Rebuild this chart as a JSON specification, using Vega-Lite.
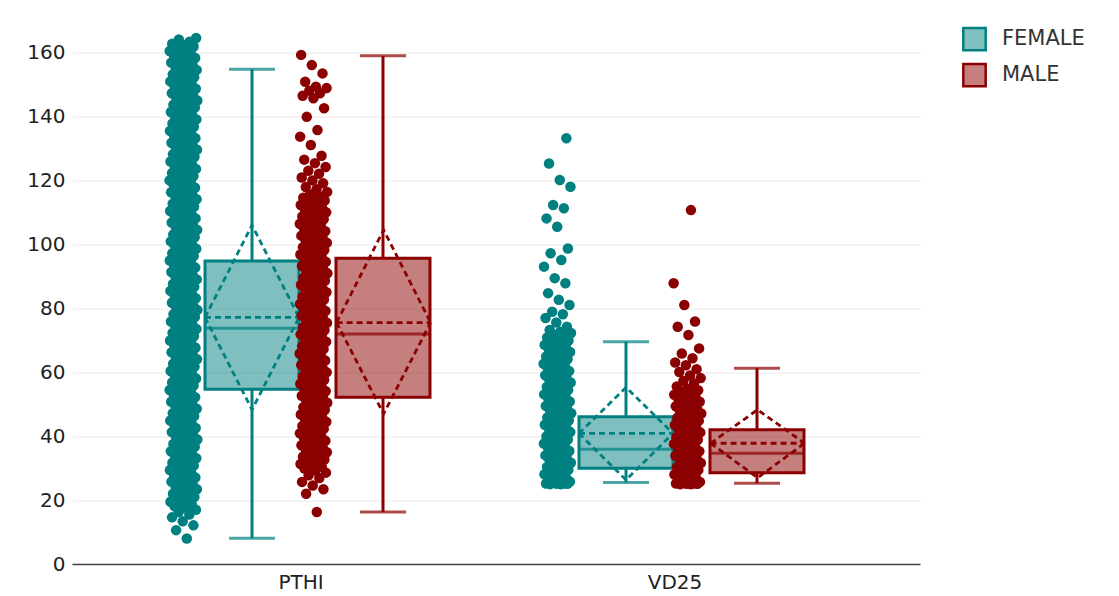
{
"$schema":"https://vega.github.io/schema/vega-lite/v6.json",
"width":848,"height":533.4,
"autosize":{"type":"none"},
"padding":{"left":72,"top":30.6,"right":199,"bottom":32},
"background":"white",
"config":{"view":{"stroke":null},"font":"DejaVu Sans",
"axis":{"labelFont":"DejaVu Sans","labelColor":"#222","labelFontSize":20},
"axisX":{"labelAngle":0,"ticks":false,"grid":false,"domainColor":"#444","domainWidth":1.5,"labelPadding":8},
"axisY":{"ticks":false,"domain":false,"gridColor":"#e9e9e9","gridWidth":1,"labelPadding":7}},
"datasets":{
"st":[{"c":"PTHI","s":"FEMALE","lo":8.1,"q1":54.7,"med":73.8,"q3":94.9,"hi":154.9},{"c":"PTHI","s":"MALE","lo":16.3,"q1":52.2,"med":72.0,"q3":95.7,"hi":159.1},{"c":"VD25","s":"FEMALE","lo":25.5,"q1":30.0,"med":35.9,"q3":46.1,"hi":69.6},{"c":"VD25","s":"MALE","lo":25.3,"q1":28.6,"med":34.7,"q3":42.0,"hi":61.3}],
"dm":[
{"c":"PTHI","s":"FEMALE","k":"up","p":"FL","v":77.2,"o":1},{"c":"PTHI","s":"FEMALE","k":"up","p":"FC","v":106.1,"o":2},{"c":"PTHI","s":"FEMALE","k":"up","p":"FR","v":77.2,"o":3},
{"c":"PTHI","s":"FEMALE","k":"dn","p":"FL","v":77.2,"o":1},{"c":"PTHI","s":"FEMALE","k":"dn","p":"FC","v":48.3,"o":2},{"c":"PTHI","s":"FEMALE","k":"dn","p":"FR","v":77.2,"o":3},
{"c":"PTHI","s":"FEMALE","k":"mean","p":"FL","v":77.2,"o":1},{"c":"PTHI","s":"FEMALE","k":"mean","p":"FR","v":77.2,"o":2},
{"c":"PTHI","s":"MALE","k":"up","p":"ML","v":75.6,"o":1},{"c":"PTHI","s":"MALE","k":"up","p":"MC","v":104.6,"o":2},{"c":"PTHI","s":"MALE","k":"up","p":"MR","v":75.6,"o":3},
{"c":"PTHI","s":"MALE","k":"dn","p":"ML","v":75.6,"o":1},{"c":"PTHI","s":"MALE","k":"dn","p":"MC","v":47.0,"o":2},{"c":"PTHI","s":"MALE","k":"dn","p":"MR","v":75.6,"o":3},
{"c":"PTHI","s":"MALE","k":"mean","p":"ML","v":75.6,"o":1},{"c":"PTHI","s":"MALE","k":"mean","p":"MR","v":75.6,"o":2},
{"c":"VD25","s":"FEMALE","k":"up","p":"FL","v":40.9,"o":1},{"c":"VD25","s":"FEMALE","k":"up","p":"FC","v":55.3,"o":2},{"c":"VD25","s":"FEMALE","k":"up","p":"FR","v":40.9,"o":3},
{"c":"VD25","s":"FEMALE","k":"dn","p":"FL","v":40.9,"o":1},{"c":"VD25","s":"FEMALE","k":"dn","p":"FC","v":26.3,"o":2},{"c":"VD25","s":"FEMALE","k":"dn","p":"FR","v":40.9,"o":3},
{"c":"VD25","s":"FEMALE","k":"mean","p":"FL","v":40.9,"o":1},{"c":"VD25","s":"FEMALE","k":"mean","p":"FR","v":40.9,"o":2},
{"c":"VD25","s":"MALE","k":"up","p":"ML","v":37.8,"o":1},{"c":"VD25","s":"MALE","k":"up","p":"MC","v":48.3,"o":2},{"c":"VD25","s":"MALE","k":"up","p":"MR","v":37.8,"o":3},
{"c":"VD25","s":"MALE","k":"dn","p":"ML","v":37.8,"o":1},{"c":"VD25","s":"MALE","k":"dn","p":"MC","v":27.0,"o":2},{"c":"VD25","s":"MALE","k":"dn","p":"MR","v":37.8,"o":3},
{"c":"VD25","s":"MALE","k":"mean","p":"ML","v":37.8,"o":1},{"c":"VD25","s":"MALE","k":"mean","p":"MR","v":37.8,"o":2}],
"fp":[{"v":8.0},{"v":10.6},{"v":12.1},{"v":13.4},{"v":14.6},{"v":15.5},{"v":16.3},{"v":17.0},{"v":17.6},{"v":18.1},{"v":18.6},{"v":19.0},{"v":19.5},{"v":20.1},{"v":20.5},{"v":21.0},{"v":21.6},{"v":22.0},{"v":22.4},{"v":22.9},{"v":23.4},{"v":23.8},{"v":24.3},{"v":24.9},{"v":25.3},{"v":25.8},{"v":26.2},{"v":26.7},{"v":27.1},{"v":27.6},{"v":28.0},{"v":28.5},{"v":29.0},{"v":29.4},{"v":29.9},{"v":30.3},{"v":30.8},{"v":31.2},{"v":31.7},{"v":32.1},{"v":32.6},{"v":33.1},{"v":33.5},{"v":34.0},{"v":34.4},{"v":34.9},{"v":35.3},{"v":35.8},{"v":36.3},{"v":36.7},{"v":37.2},{"v":37.6},{"v":38.1},{"v":38.5},{"v":39.0},{"v":39.5},{"v":39.9},{"v":40.4},{"v":40.8},{"v":41.3},{"v":41.7},{"v":42.2},{"v":42.6},{"v":43.1},{"v":43.6},{"v":44.0},{"v":44.5},{"v":44.9},{"v":45.4},{"v":45.8},{"v":46.3},{"v":46.7},{"v":47.2},{"v":47.7},{"v":48.1},{"v":48.6},{"v":49.0},{"v":49.5},{"v":49.9},{"v":50.4},{"v":50.8},{"v":51.3},{"v":51.8},{"v":52.2},{"v":52.7},{"v":53.1},{"v":53.6},{"v":54.0},{"v":54.5},{"v":54.9},{"v":55.4},{"v":55.9},{"v":56.3},{"v":56.8},{"v":57.2},{"v":57.7},{"v":58.1},{"v":58.6},{"v":59.0},{"v":59.5},{"v":60.0},{"v":60.4},{"v":60.9},{"v":61.3},{"v":61.8},{"v":62.2},{"v":62.7},{"v":63.1},{"v":63.6},{"v":64.1},{"v":64.5},{"v":65.0},{"v":65.4},{"v":65.9},{"v":66.3},{"v":66.8},{"v":67.2},{"v":67.7},{"v":68.2},{"v":68.6},{"v":69.1},{"v":69.5},{"v":70.0},{"v":70.4},{"v":70.9},{"v":71.3},{"v":71.8},{"v":72.3},{"v":72.7},{"v":73.2},{"v":73.6},{"v":74.1},{"v":74.5},{"v":75.0},{"v":75.4},{"v":75.9},{"v":76.4},{"v":76.8},{"v":77.3},{"v":77.7},{"v":78.2},{"v":78.6},{"v":79.1},{"v":79.5},{"v":80.0},{"v":80.5},{"v":80.9},{"v":81.4},{"v":81.8},{"v":82.3},{"v":82.7},{"v":83.2},{"v":83.6},{"v":84.1},{"v":84.6},{"v":85.0},{"v":85.5},{"v":85.9},{"v":86.4},{"v":86.8},{"v":87.3},{"v":87.7},{"v":88.2},{"v":88.7},{"v":89.1},{"v":89.6},{"v":90.0},{"v":90.5},{"v":90.9},{"v":91.4},{"v":91.8},{"v":92.3},{"v":92.8},{"v":93.2},{"v":93.7},{"v":94.1},{"v":94.6},{"v":95.0},{"v":95.5},{"v":95.9},{"v":96.4},{"v":96.9},{"v":97.3},{"v":97.8},{"v":98.2},{"v":98.7},{"v":99.1},{"v":99.6},{"v":100.0},{"v":100.5},{"v":101.0},{"v":101.4},{"v":101.9},{"v":102.3},{"v":102.8},{"v":103.2},{"v":103.7},{"v":104.1},{"v":104.6},{"v":105.1},{"v":105.5},{"v":106.0},{"v":106.4},{"v":106.9},{"v":107.3},{"v":107.8},{"v":108.2},{"v":108.7},{"v":109.2},{"v":109.6},{"v":110.1},{"v":110.5},{"v":111.0},{"v":111.4},{"v":111.9},{"v":112.3},{"v":112.8},{"v":113.3},{"v":113.7},{"v":114.2},{"v":114.6},{"v":115.1},{"v":115.5},{"v":116.0},{"v":116.4},{"v":116.9},{"v":117.4},{"v":117.8},{"v":118.3},{"v":118.7},{"v":119.2},{"v":119.6},{"v":120.1},{"v":120.5},{"v":121.0},{"v":121.5},{"v":121.9},{"v":122.4},{"v":122.8},{"v":123.3},{"v":123.7},{"v":124.2},{"v":124.6},{"v":125.1},{"v":125.6},{"v":126.0},{"v":126.5},{"v":126.9},{"v":127.4},{"v":127.8},{"v":128.3},{"v":128.7},{"v":129.2},{"v":129.7},{"v":130.1},{"v":130.6},{"v":131.0},{"v":131.5},{"v":131.9},{"v":132.4},{"v":132.8},{"v":133.3},{"v":133.8},{"v":134.2},{"v":134.7},{"v":135.1},{"v":135.6},{"v":136.0},{"v":136.5},{"v":136.9},{"v":137.4},{"v":137.9},{"v":138.3},{"v":138.8},{"v":139.2},{"v":139.7},{"v":140.1},{"v":140.6},{"v":141.0},{"v":141.5},{"v":142.0},{"v":142.4},{"v":142.9},{"v":143.3},{"v":143.8},{"v":144.2},{"v":144.7},{"v":145.1},{"v":145.6},{"v":146.1},{"v":146.5},{"v":147.0},{"v":147.4},{"v":147.9},{"v":148.3},{"v":148.8},{"v":149.2},{"v":149.7},{"v":150.2},{"v":150.6},{"v":151.1},{"v":151.5},{"v":152.0},{"v":152.4},{"v":152.9},{"v":153.3},{"v":153.8},{"v":154.3},{"v":154.7},{"v":155.2},{"v":155.6},{"v":156.1},{"v":156.5},{"v":157.0},{"v":157.4},{"v":157.9},{"v":158.4},{"v":158.8},{"v":159.3},{"v":159.7},{"v":160.2},{"v":160.6},{"v":161.1},{"v":161.5},{"v":162.0},{"v":162.5},{"v":162.9},{"v":163.5},{"v":164.2},{"v":164.7}],
"mp":[{"v":16.3},{"v":22.0},{"v":23.4},{"v":24.6},{"v":25.7},{"v":26.9},{"v":27.8},{"v":28.6},{"v":29.3},{"v":29.9},{"v":30.4},{"v":30.9},{"v":31.3},{"v":31.8},{"v":32.2},{"v":32.7},{"v":33.1},{"v":33.6},{"v":34.1},{"v":34.5},{"v":35.0},{"v":35.4},{"v":35.9},{"v":36.3},{"v":36.8},{"v":37.2},{"v":37.7},{"v":38.2},{"v":38.6},{"v":39.1},{"v":39.5},{"v":40.0},{"v":40.4},{"v":40.9},{"v":41.3},{"v":41.8},{"v":42.3},{"v":42.7},{"v":43.2},{"v":43.6},{"v":44.1},{"v":44.5},{"v":45.0},{"v":45.4},{"v":45.9},{"v":46.4},{"v":46.8},{"v":47.3},{"v":47.7},{"v":48.2},{"v":48.6},{"v":49.1},{"v":49.5},{"v":50.0},{"v":50.5},{"v":50.9},{"v":51.4},{"v":51.8},{"v":52.3},{"v":52.7},{"v":53.2},{"v":53.6},{"v":54.1},{"v":54.6},{"v":55.0},{"v":55.5},{"v":55.9},{"v":56.4},{"v":56.8},{"v":57.3},{"v":57.7},{"v":58.2},{"v":58.7},{"v":59.1},{"v":59.6},{"v":60.0},{"v":60.5},{"v":60.9},{"v":61.4},{"v":61.8},{"v":62.3},{"v":62.8},{"v":63.2},{"v":63.7},{"v":64.1},{"v":64.6},{"v":65.0},{"v":65.5},{"v":65.9},{"v":66.4},{"v":66.9},{"v":67.3},{"v":67.8},{"v":68.2},{"v":68.7},{"v":69.1},{"v":69.6},{"v":70.0},{"v":70.5},{"v":71.0},{"v":71.4},{"v":71.9},{"v":72.3},{"v":72.8},{"v":73.2},{"v":73.7},{"v":74.1},{"v":74.6},{"v":75.1},{"v":75.5},{"v":76.0},{"v":76.4},{"v":76.9},{"v":77.3},{"v":77.8},{"v":78.2},{"v":78.7},{"v":79.2},{"v":79.6},{"v":80.1},{"v":80.5},{"v":81.0},{"v":81.4},{"v":81.9},{"v":82.3},{"v":82.8},{"v":83.3},{"v":83.7},{"v":84.2},{"v":84.6},{"v":85.1},{"v":85.5},{"v":86.0},{"v":86.4},{"v":86.9},{"v":87.4},{"v":87.8},{"v":88.3},{"v":88.7},{"v":89.2},{"v":89.6},{"v":90.1},{"v":90.5},{"v":91.0},{"v":91.5},{"v":91.9},{"v":92.4},{"v":92.8},{"v":93.3},{"v":93.7},{"v":94.2},{"v":94.6},{"v":95.1},{"v":95.6},{"v":96.0},{"v":96.5},{"v":96.9},{"v":97.4},{"v":97.8},{"v":98.3},{"v":98.7},{"v":99.2},{"v":99.7},{"v":100.1},{"v":100.6},{"v":101.0},{"v":101.5},{"v":101.9},{"v":102.4},{"v":102.8},{"v":103.3},{"v":103.8},{"v":104.2},{"v":104.7},{"v":105.1},{"v":105.6},{"v":106.0},{"v":106.5},{"v":106.9},{"v":107.4},{"v":107.9},{"v":108.3},{"v":108.8},{"v":109.2},{"v":109.7},{"v":110.1},{"v":110.6},{"v":111.0},{"v":111.5},{"v":112.0},{"v":112.4},{"v":112.9},{"v":113.3},{"v":113.8},{"v":114.2},{"v":114.7},{"v":115.1},{"v":115.6},{"v":116.5},{"v":117.3},{"v":118.0},{"v":119.2},{"v":120.1},{"v":121.0},{"v":122.2},{"v":123.1},{"v":124.3},{"v":125.5},{"v":126.6},{"v":127.8},{"v":131.2},{"v":133.8},{"v":135.9},{"v":140.0},{"v":142.7},{"v":145.8},{"v":146.6},{"v":147.4},{"v":148.2},{"v":149.0},{"v":149.4},{"v":151.0},{"v":153.6},{"v":156.2},{"v":159.4}],
"fv":[{"v":25.0},{"v":25.0},{"v":25.1},{"v":25.1},{"v":25.2},{"v":25.2},{"v":25.4},{"v":25.8},{"v":26.3},{"v":26.7},{"v":27.2},{"v":27.6},{"v":28.1},{"v":28.5},{"v":29.0},{"v":29.5},{"v":29.9},{"v":30.4},{"v":30.8},{"v":31.3},{"v":31.7},{"v":32.2},{"v":32.6},{"v":33.1},{"v":33.6},{"v":34.0},{"v":34.5},{"v":34.9},{"v":35.4},{"v":35.8},{"v":36.3},{"v":36.7},{"v":37.2},{"v":37.7},{"v":38.1},{"v":38.6},{"v":39.0},{"v":39.5},{"v":39.9},{"v":40.4},{"v":40.8},{"v":41.3},{"v":41.8},{"v":42.2},{"v":42.7},{"v":43.1},{"v":43.6},{"v":44.0},{"v":44.5},{"v":44.9},{"v":45.4},{"v":45.9},{"v":46.3},{"v":46.8},{"v":47.2},{"v":47.7},{"v":48.1},{"v":48.6},{"v":49.0},{"v":49.5},{"v":50.0},{"v":50.4},{"v":50.9},{"v":51.3},{"v":51.8},{"v":52.2},{"v":52.7},{"v":53.1},{"v":53.6},{"v":54.1},{"v":54.5},{"v":55.0},{"v":55.4},{"v":55.9},{"v":56.3},{"v":56.8},{"v":57.2},{"v":57.7},{"v":58.2},{"v":58.6},{"v":59.1},{"v":59.5},{"v":60.0},{"v":60.4},{"v":60.9},{"v":61.3},{"v":61.8},{"v":62.3},{"v":62.7},{"v":63.2},{"v":63.6},{"v":64.1},{"v":64.5},{"v":65.0},{"v":65.4},{"v":65.9},{"v":66.4},{"v":66.8},{"v":67.3},{"v":67.7},{"v":68.2},{"v":68.6},{"v":69.1},{"v":69.5},{"v":70.0},{"v":70.5},{"v":70.9},{"v":71.4},{"v":71.8},{"v":72.3},{"v":72.7},{"v":73.3},{"v":74.3},{"v":75.6},{"v":77.0},{"v":78.2},{"v":79.0},{"v":81.1},{"v":82.7},{"v":84.8},{"v":87.9},{"v":89.5},{"v":93.1},{"v":95.2},{"v":97.3},{"v":98.8},{"v":105.6},{"v":108.2},{"v":111.4},{"v":112.4},{"v":118.1},{"v":120.2},{"v":125.4},{"v":133.3}],
"mv":[{"v":25.0},{"v":25.0},{"v":25.1},{"v":25.1},{"v":25.2},{"v":25.2},{"v":25.3},{"v":25.7},{"v":26.2},{"v":26.6},{"v":27.1},{"v":27.5},{"v":28.0},{"v":28.4},{"v":28.9},{"v":29.4},{"v":29.8},{"v":30.3},{"v":30.7},{"v":31.2},{"v":31.6},{"v":32.1},{"v":32.5},{"v":33.0},{"v":33.5},{"v":33.9},{"v":34.4},{"v":34.8},{"v":35.3},{"v":35.7},{"v":36.2},{"v":36.6},{"v":37.1},{"v":37.6},{"v":38.0},{"v":38.5},{"v":38.9},{"v":39.4},{"v":39.8},{"v":40.3},{"v":40.7},{"v":41.2},{"v":41.7},{"v":42.1},{"v":42.6},{"v":43.0},{"v":43.5},{"v":43.9},{"v":44.4},{"v":44.8},{"v":45.3},{"v":45.8},{"v":46.2},{"v":46.7},{"v":47.1},{"v":47.6},{"v":48.0},{"v":48.5},{"v":48.9},{"v":49.4},{"v":49.9},{"v":50.3},{"v":50.8},{"v":51.2},{"v":51.7},{"v":52.1},{"v":52.6},{"v":53.0},{"v":53.5},{"v":54.0},{"v":54.4},{"v":54.9},{"v":55.6},{"v":56.5},{"v":57.3},{"v":58.2},{"v":59.0},{"v":60.1},{"v":61.0},{"v":62.2},{"v":63.1},{"v":64.4},{"v":65.9},{"v":67.5},{"v":71.7},{"v":74.3},{"v":75.9},{"v":81.1},{"v":87.9},{"v":110.8}]
},
"layer":[
{"data":{"name":"st"},"mark":{"type":"bar","fillOpacity":0.5,"strokeWidth":3},
"encoding":{
"x":{"field":"c","type":"nominal","title":null,"scale":{"domain":["PTHI","VD25"],"paddingInner":0,"paddingOuter":0.1337,"align":0.42}},
"xOffset":{"field":"s","type":"nominal","scale":{"type":"band","domain":["FEMALE","MALE"],"paddingInner":0.2824,"paddingOuter":0.5688,"align":0.6107}},
"y":{"field":"q1","type":"quantitative","title":null,"scale":{"domain":[0,167],"nice":false},"axis":{"values":[0,20,40,60,80,100,120,140,160]}},
"y2":{"field":"q3"},
"color":{"field":"s","type":"nominal","scale":{"domain":["FEMALE","MALE"],"range":["#008080","#8b0000"]},
"legend":{"title":null,"orient":"none","legendX":890,"legendY":-4,"symbolType":"square","symbolSize":500,"symbolStrokeWidth":2,"labelFontSize":21,"labelColor":"#333","labelFont":"DejaVu Sans","rowPadding":3,"labelOffset":15,"padding":0,
"encode":{"symbols":{"update":{"fillOpacity":{"value":0.5},"stroke":{"scale":"color","field":"value"},"strokeWidth":{"value":2.5}}}}}},
"stroke":{"field":"s","type":"nominal","scale":{"domain":["FEMALE","MALE"],"range":["#008080","#8b0000"]},"legend":null}}},
{"data":{"name":"st"},"mark":{"type":"rule","strokeWidth":3},
"encoding":{"x":{"field":"c","type":"nominal","title":null},
"xOffset":{"field":"s","type":"nominal","scale":{"type":"band","domain":["FEMALE","MALE"],"paddingInner":0.2824,"paddingOuter":0.5688,"align":0.6107}},
"y":{"field":"q3","type":"quantitative","title":null},"y2":{"field":"hi"},"color":{"field":"s","type":"nominal"}}},
{"data":{"name":"st"},"mark":{"type":"rule","strokeWidth":3},
"encoding":{"x":{"field":"c","type":"nominal","title":null},
"xOffset":{"field":"s","type":"nominal","scale":{"type":"band","domain":["FEMALE","MALE"],"paddingInner":0.2824,"paddingOuter":0.5688,"align":0.6107}},
"y":{"field":"lo","type":"quantitative","title":null},"y2":{"field":"q1"},"color":{"field":"s","type":"nominal"}}},
{"data":{"name":"st"},"transform":[{"fold":["lo","hi"],"as":["w","wv"]}],"mark":{"type":"tick","size":46,"thickness":3,"orient":"horizontal"},
"encoding":{"x":{"field":"c","type":"nominal","title":null},
"xOffset":{"field":"s","type":"nominal","scale":{"type":"band","domain":["FEMALE","MALE"],"paddingInner":0.2824,"paddingOuter":0.5688,"align":0.6107}},
"y":{"field":"wv","type":"quantitative","title":null},"color":{"field":"s","type":"nominal"}}},
{"data":{"name":"st"},"mark":{"type":"tick","size":94,"thickness":3,"orient":"horizontal"},
"encoding":{"x":{"field":"c","type":"nominal","title":null},
"xOffset":{"field":"s","type":"nominal","scale":{"type":"band","domain":["FEMALE","MALE"],"paddingInner":0.2824,"paddingOuter":0.5688,"align":0.6107}},
"y":{"field":"med","type":"quantitative","title":null},"color":{"field":"s","type":"nominal"}}},
{"data":{"name":"dm"},"mark":{"type":"line","strokeWidth":2.8,"strokeDash":[6,4]},
"encoding":{"x":{"field":"c","type":"nominal","title":null},
"xOffset":{"field":"p","type":"nominal","scale":{"type":"point","domain":["l1","l2","l3","l4","l5","l6","l7","l8","l9","FL","a1","a2","a3","a4","FC","a6","a7","a8","a9","FR","b1","b2","b3","ML","c1","c2","c3","c4","MC","c6","c7","c8","c9","MR","r1","r2","r3","r4","r5","r6"],"padding":0.394,"align":0.865}},
"y":{"field":"v","type":"quantitative","title":null},"color":{"field":"s","type":"nominal"},
"detail":[{"field":"c","type":"nominal"},{"field":"k","type":"nominal"}],"order":{"field":"o","type":"quantitative"}}},
{"data":{"name":"fp"},"transform":[{"window":[{"op":"row_number","as":"i"}]},{"calculate":"(datum.i*0.6180339887)%1","as":"j"}],
"mark":{"type":"circle","size":110,"opacity":1},
"encoding":{"x":{"datum":"PTHI","type":"nominal","title":null},"xOffset":{"field":"j","type":"quantitative","scale":{"domain":[-1.982,11.375],"nice":false,"zero":false}},
"y":{"field":"v","type":"quantitative","title":null},"color":{"datum":"FEMALE","type":"nominal"}}},
{"data":{"name":"mp"},"transform":[{"window":[{"op":"row_number","as":"i"}]},{"calculate":"(datum.i*0.6180339887)%1","as":"j"}],
"mark":{"type":"circle","size":110,"opacity":1},
"encoding":{"x":{"datum":"PTHI","type":"nominal","title":null},"xOffset":{"field":"j","type":"quantitative","scale":{"domain":[-6.625,6.732],"nice":false,"zero":false}},
"y":{"field":"v","type":"quantitative","title":null},"color":{"datum":"MALE","type":"nominal"}}},
{"data":{"name":"fv"},"transform":[{"window":[{"op":"row_number","as":"i"}]},{"calculate":"(datum.i*0.6180339887)%1","as":"j"}],
"mark":{"type":"circle","size":110,"opacity":1},
"encoding":{"x":{"datum":"VD25","type":"nominal","title":null},"xOffset":{"field":"j","type":"quantitative","scale":{"domain":[-1.982,11.375],"nice":false,"zero":false}},
"y":{"field":"v","type":"quantitative","title":null},"color":{"datum":"FEMALE","type":"nominal"}}},
{"data":{"name":"mv"},"transform":[{"window":[{"op":"row_number","as":"i"}]},{"calculate":"(datum.i*0.6180339887)%1","as":"j"}],
"mark":{"type":"circle","size":110,"opacity":1},
"encoding":{"x":{"datum":"VD25","type":"nominal","title":null},"xOffset":{"field":"j","type":"quantitative","scale":{"domain":[-6.625,6.732],"nice":false,"zero":false}},
"y":{"field":"v","type":"quantitative","title":null},"color":{"datum":"MALE","type":"nominal"}}}
],
"resolve":{"scale":{"xOffset":"independent"}}
}
